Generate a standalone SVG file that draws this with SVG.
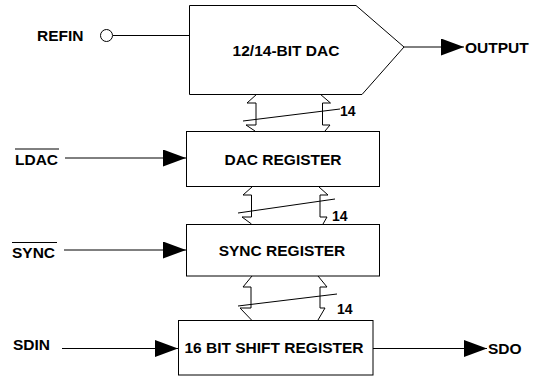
<svg xmlns="http://www.w3.org/2000/svg" width="544" height="376" viewBox="0 0 544 376">
<style>
.box{fill:#fff;stroke:#000;stroke-width:1}
.ln{fill:none;stroke:#000;stroke-width:1}
.lbl{font-family:"Liberation Sans",Arial,sans-serif;font-weight:bold;font-size:15.5px;fill:#000}
.num{font-family:"Liberation Sans",Arial,sans-serif;font-weight:bold;font-size:14px;fill:#000}
</style>
<defs>
<marker id="ah" viewBox="0 0 23 17" refX="23" refY="8.5" markerWidth="23" markerHeight="17" markerUnits="userSpaceOnUse" orient="auto">
<path d="M0,0 L23,8.5 L0,17 Z" fill="#000"/>
</marker>
</defs>
<rect width="544" height="376" fill="#fff"/>
<g id="connectors">
<line class="ln" x1="113" y1="35.5" x2="189" y2="35.5"/>
<line class="ln" x1="404" y1="47" x2="464" y2="47" marker-end="url(#ah)"/>
<line class="ln" x1="65" y1="158" x2="186" y2="158" marker-end="url(#ah)"/>
<line class="ln" x1="64" y1="250" x2="186" y2="250" marker-end="url(#ah)"/>
<line class="ln" x1="62" y1="348.5" x2="178" y2="348.5" marker-end="url(#ah)"/>
<line class="ln" x1="373" y1="348.5" x2="487" y2="348.5" marker-end="url(#ah)"/>
<path class="ln" d="M257,94 L247,103 L256,103 L256,125 L246,125 L255,131"/>
<path class="ln" d="M320,94 L330.5,103 L322.5,103 L322.5,125 L330,125 L325,131"/>
<line class="ln" x1="243" y1="121" x2="340" y2="109"/>
<path class="ln" d="M252,187 L243,195 L251.5,195 L251.5,217 L242,217 L251.5,224"/>
<path class="ln" d="M319,187 L328,195 L320,195 L320,217 L327,217 L323,224"/>
<line class="ln" x1="238" y1="213" x2="335" y2="199"/>
<path class="ln" d="M252,276 L243,287 L251,287 L251,308 L240,308 L251.5,320"/>
<path class="ln" d="M318,276 L327,287 L320,287 L320,308 L325,308 L318,320"/>
<line class="ln" x1="238" y1="306" x2="337" y2="294"/>
</g>
<g id="refin">
<circle class="ln" cx="106.5" cy="35.5" r="6"/>
<text class="lbl" x="37" y="41">REFIN</text>
</g>
<g id="dac">
<path class="box" d="M189.5,5.5 L356,5.5 L404,47 L362,94.5 L189.5,94.5 Z"/>
<text class="lbl" x="286" y="56" text-anchor="middle">12/14-BIT DAC</text>
</g>
<g id="output"><text class="lbl" x="465" y="52.5">OUTPUT</text></g>
<g id="dacreg">
<rect class="box" x="186.5" y="131.5" width="193" height="55"/>
<text class="lbl" x="283" y="165" text-anchor="middle">DAC REGISTER</text>
</g>
<g id="ldac">
<text class="lbl" x="15" y="165">LDAC</text>
<line class="ln" x1="15" y1="149" x2="59" y2="149"/>
</g>
<g id="syncreg">
<rect class="box" x="186.5" y="224.5" width="193" height="51.5"/>
<text class="lbl" x="282" y="256" text-anchor="middle">SYNC REGISTER</text>
</g>
<g id="sync">
<text class="lbl" x="12" y="258">SYNC</text>
<line class="ln" x1="12" y1="242.5" x2="57" y2="242.5"/>
</g>
<g id="shiftreg">
<rect class="box" x="178.5" y="320.5" width="194.5" height="54.5"/>
<text class="lbl" x="274" y="353" text-anchor="middle">16 BIT SHIFT REGISTER</text>
</g>
<g id="sdin"><text class="lbl" x="13" y="350">SDIN</text></g>
<g id="sdo"><text class="lbl" x="488" y="354">SDO</text></g>
<g id="buswidths">
<text class="num" x="340" y="116">14</text>
<text class="num" x="332" y="221">14</text>
<text class="num" x="337" y="314">14</text>
</g>
</svg>
